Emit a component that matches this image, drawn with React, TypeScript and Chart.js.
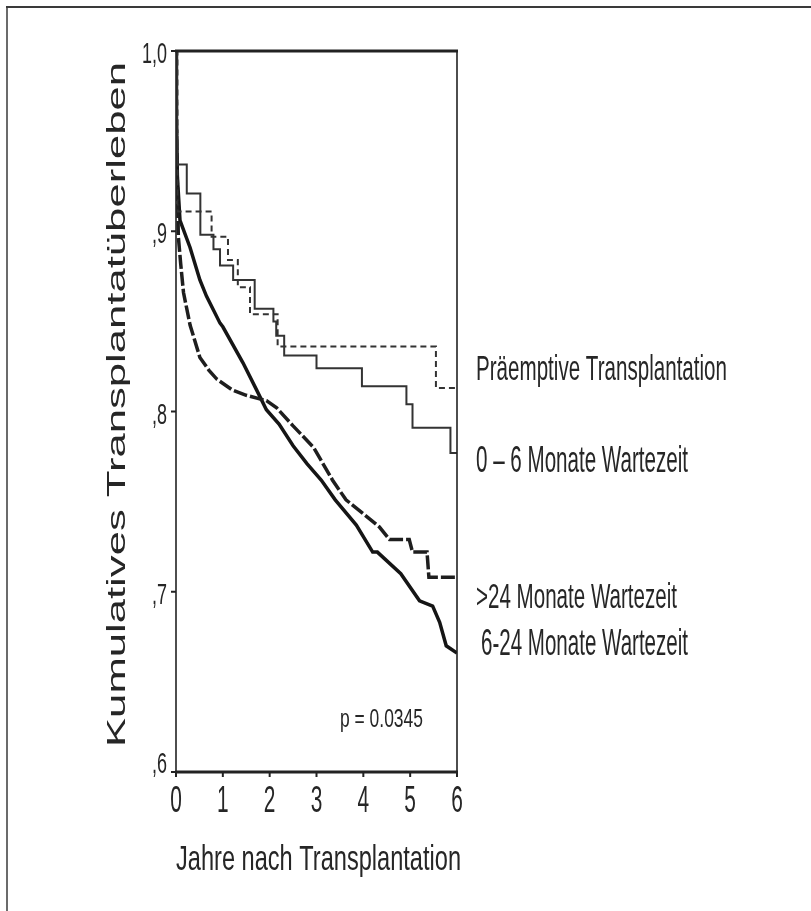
import React, { useEffect, useRef } from 'react';
import { Chart, registerables } from 'chart.js';

Chart.register(...registerables);

// ---- data ----
const yTickValues = [0.6, 0.7, 0.8, 0.9, 1.0];
const yTickLabels = [',6', ',7', ',8', ',9', '1,0'];
const xTickValues = [0, 1, 2, 3, 4, 5, 6];
const xTickLabels = ['0', '1', '2', '3', '4', '5', '6'];

const legendLabels = [
  'Präemptive Transplantation',
  '0 – 6 Monate Wartezeit',
  '>24 Monate Wartezeit',
  '6-24 Monate Wartezeit',
];
const yAxisTitle = 'Kumulatives Transplantatüberleben';
const xAxisTitle = 'Jahre nach Transplantation';
const pValueText = 'p = 0.0345';

// Präemptive Transplantation (thin dashed, step)
const praeT = [0, 0.03, 0.76, 1.11, 1.32, 1.58, 2.17, 5.55, 6.0];
const praeS = [1.0, 0.911, 0.897, 0.884, 0.869, 0.854, 0.836, 0.813, 0.813];

// 0 – 6 Monate (thin solid, step)
const m06T = [0, 0.02, 0.23, 0.52, 0.8, 0.94, 1.22, 1.68, 2.08, 2.14, 2.31, 3.0, 3.97, 4.92, 5.05, 5.86, 6.0];
const m06S = [1.0, 0.937, 0.921, 0.898, 0.89, 0.881, 0.873, 0.857, 0.85, 0.842, 0.831, 0.824, 0.814, 0.804, 0.791, 0.777, 0.777];

// >24 Monate (thick dashed)
const m24T = [0, 0.01, 0.03, 0.05, 0.1, 0.16, 0.3, 0.51, 0.7, 0.87, 1.2, 1.5, 1.93, 2.15, 2.5, 2.94, 3.34, 3.63, 4.06, 4.34, 4.56, 4.98, 5.05, 5.36, 5.4, 6.0];
const m24S = [1.0, 0.96, 0.925, 0.897, 0.882, 0.866, 0.848, 0.83, 0.823, 0.818, 0.812, 0.809, 0.806, 0.802, 0.792, 0.78, 0.762, 0.751, 0.742, 0.736, 0.729, 0.729, 0.722, 0.722, 0.708, 0.708];

// 6-24 Monate (thick solid)
const m624T = [0, 0.01, 0.03, 0.085, 0.3, 0.51, 0.65, 0.94, 1.0, 1.43, 1.72, 1.93, 2.2, 2.5, 2.8, 3.1, 3.4, 3.85, 4.2, 4.3, 4.8, 5.2, 5.48, 5.63, 5.77, 6.0];
const m624S = [1.0, 0.96, 0.93, 0.906, 0.891, 0.873, 0.864, 0.849, 0.847, 0.827, 0.812, 0.801, 0.793, 0.781, 0.771, 0.762, 0.751, 0.737, 0.722, 0.722, 0.71, 0.695, 0.692, 0.683, 0.67, 0.666];

const toPoints = (t: number[], s: number[]) => t.map((x, i) => ({ x, y: s[i] }));

const FONT = '"Liberation Sans", Arial, Helvetica, sans-serif';
const INK = '#262626';

function fitText(
  ctx: CanvasRenderingContext2D,
  text: string,
  x: number,
  y: number,
  size: number,
  width: number,
  rotate = false,
) {
  ctx.save();
  ctx.font = `${size}px ${FONT}`;
  const w = ctx.measureText(text).width;
  ctx.translate(x, y);
  if (rotate) ctx.rotate(-Math.PI / 2);
  ctx.scale(width / w, 1);
  ctx.textAlign = 'left';
  ctx.textBaseline = 'alphabetic';
  ctx.fillStyle = INK;
  ctx.fillText(text, 0, 0);
  ctx.restore();
}

function scaledText(
  ctx: CanvasRenderingContext2D,
  text: string,
  x: number,
  y: number,
  size: number,
  sx: number,
  align: CanvasTextAlign,
) {
  ctx.save();
  ctx.font = `${size}px ${FONT}`;
  ctx.translate(x, y);
  ctx.scale(sx, 1);
  ctx.textAlign = align;
  ctx.textBaseline = 'alphabetic';
  ctx.fillStyle = INK;
  ctx.fillText(text, 0, 0);
  ctx.restore();
}

const decorPlugin = {
  id: 'decor',
  afterDatasetsDraw(chart: any) {
    const ctx: CanvasRenderingContext2D = chart.ctx;
    const { left, right, top, bottom } = chart.chartArea;
    const xs = chart.scales.x;
    const ys = chart.scales.y;
    ctx.save();
    // outer border (top + left)
    ctx.strokeStyle = '#3a3a3a';
    ctx.lineWidth = 2;
    ctx.beginPath();
    ctx.moveTo(6, 7);
    ctx.lineTo(811, 7);
    ctx.stroke();
    ctx.lineWidth = 1.5;
    ctx.beginPath();
    ctx.moveTo(7, 6);
    ctx.lineTo(7, 911);
    ctx.stroke();

    // plot frame
    ctx.strokeStyle = '#222';
    ctx.lineWidth = 3;
    ctx.beginPath();
    ctx.moveTo(left - 1, top);
    ctx.lineTo(right + 1, top);
    ctx.moveTo(left - 1, bottom);
    ctx.lineTo(right + 1, bottom);
    ctx.stroke();
    ctx.lineWidth = 1.6;
    ctx.beginPath();
    ctx.moveTo(left, top);
    ctx.lineTo(left, bottom);
    ctx.moveTo(right, top);
    ctx.lineTo(right, bottom);
    ctx.stroke();

    // y ticks
    ctx.lineWidth = 2;
    yTickValues.forEach((v, i) => {
      const py = ys.getPixelForValue(v);
      ctx.beginPath();
      ctx.moveTo(left - 5, py);
      ctx.lineTo(left, py);
      ctx.stroke();
      const base = i === 0 ? py + 1 : py + 12;
      scaledText(ctx, yTickLabels[i], left - 9, base, 30, 0.6, 'right');
    });
    // x ticks
    xTickValues.forEach((v, i) => {
      const px = xs.getPixelForValue(v);
      ctx.beginPath();
      ctx.moveTo(px, bottom);
      ctx.lineTo(px, bottom + 5);
      ctx.stroke();
      scaledText(ctx, xTickLabels[i], px, bottom + 40, 36, 0.58, 'center');
    });

    // titles
    fitText(ctx, xAxisTitle, left, 870, 35, 285);
    fitText(ctx, yAxisTitle, 125, 747, 25, 685, true);

    // series labels
    fitText(ctx, legendLabels[0], 476, 380, 35, 251);
    fitText(ctx, legendLabels[1], 476, 472, 37, 212);
    fitText(ctx, legendLabels[2], 476, 608, 35, 201);
    fitText(ctx, legendLabels[3], 481, 655, 36, 207);

    // p value
    fitText(ctx, pValueText, 340, 727, 25, 83);
    ctx.restore();
  },
};

export default function App() {
  const ref = useRef<HTMLCanvasElement | null>(null);
  useEffect(() => {
    if (!ref.current) return;
    const chart = new Chart(ref.current, {
      type: 'line',
      data: {
        datasets: [
          {
            label: legendLabels[0],
            data: toPoints(praeT, praeS),
            stepped: 'before',
            borderColor: '#333',
            borderWidth: 2,
            borderDash: [6, 4],
            pointRadius: 0,
            fill: false,
          },
          {
            label: legendLabels[1],
            data: toPoints(m06T, m06S),
            stepped: 'before',
            borderColor: '#333',
            borderWidth: 2,
            pointRadius: 0,
            fill: false,
          },
          {
            label: legendLabels[2],
            data: toPoints(m24T, m24S),
            borderColor: '#1e1e1e',
            borderWidth: 3.5,
            borderDash: [14, 3],
            pointRadius: 0,
            tension: 0,
            fill: false,
          },
          {
            label: legendLabels[3],
            data: toPoints(m624T, m624S),
            borderColor: '#151515',
            borderWidth: 3.5,
            pointRadius: 0,
            tension: 0,
            fill: false,
          },
        ],
      },
      options: {
        responsive: false,
        animation: false,
        events: [],
        layout: { padding: { left: 176, right: 354, top: 51, bottom: 139 } },
        scales: {
          x: { type: 'linear', min: 0, max: 6, display: false },
          y: { type: 'linear', min: 0.6, max: 1.0, display: false },
        },
        plugins: { legend: { display: false }, tooltip: { enabled: false } },
      },
      plugins: [decorPlugin],
    });
    return () => chart.destroy();
  }, []);
  return (
    <div style={{ position: 'absolute', left: 0, top: 0, width: 811, height: 911, background: '#fff' }}>
      <canvas ref={ref} width={811} height={911} style={{ display: 'block' }} />
    </div>
  );
}
